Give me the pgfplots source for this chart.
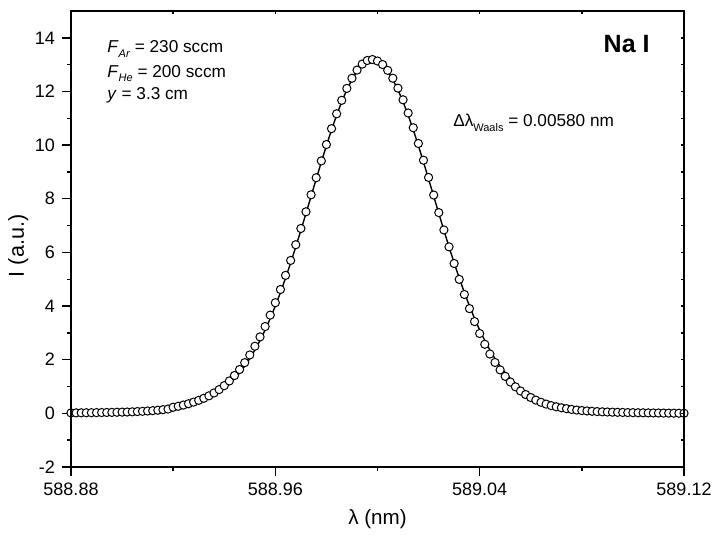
\documentclass[border=0pt]{standalone}
\usepackage{fontspec}
\setmainfont{Liberation Sans}
\usepackage{pgfplots}
\pgfplotsset{compat=1.18}
\usepackage{pgfplotstable}

\newcommand{\sub}[1]{\raisebox{-2.2pt}{\fontsize{5.5}{6}\selectfont #1}}

\pgfplotstableread{
x y
588.880 0.056
588.882 0.058
588.884 0.060
588.886 0.062
588.888 0.064
588.890 0.067
588.892 0.070
588.894 0.073
588.896 0.076
588.898 0.079
588.900 0.083
588.902 0.088
588.904 0.093
588.906 0.100
588.908 0.107
588.910 0.116
588.912 0.126
588.914 0.139
588.916 0.155
588.918 0.173
588.920 0.196
588.922 0.224
588.924 0.258
588.926 0.299
588.928 0.349
588.930 0.410
588.932 0.482
588.934 0.568
588.936 0.670
588.938 0.791
588.940 0.933
588.942 1.098
588.944 1.289
588.946 1.509
588.948 1.759
588.950 2.042
588.952 2.361
588.954 2.715
588.956 3.107
588.958 3.537
588.960 4.004
588.962 4.507
588.964 5.044
588.966 5.611
588.968 6.206
588.970 6.822
588.972 7.454
588.974 8.094
588.976 8.735
588.978 9.367
588.980 9.981
588.982 10.568
588.984 11.117
588.986 11.619
588.988 12.064
588.990 12.443
588.992 12.747
588.994 12.969
588.996 13.104
588.998 13.150
589.000 13.104
589.002 12.969
589.004 12.747
589.006 12.443
589.008 12.064
589.010 11.619
589.012 11.117
589.014 10.568
589.016 9.981
589.018 9.367
589.020 8.735
589.022 8.094
589.024 7.454
589.026 6.822
589.028 6.206
589.030 5.611
589.032 5.044
589.034 4.507
589.036 4.004
589.038 3.537
589.040 3.107
589.042 2.715
589.044 2.361
589.046 2.042
589.048 1.759
589.050 1.509
589.052 1.289
589.054 1.098
589.056 0.933
589.058 0.791
589.060 0.670
589.062 0.568
589.064 0.482
589.066 0.410
589.068 0.349
589.070 0.299
589.072 0.258
589.074 0.224
589.076 0.196
589.078 0.173
589.080 0.155
589.082 0.139
589.084 0.126
589.086 0.116
589.088 0.107
589.090 0.100
589.092 0.093
589.094 0.088
589.096 0.083
589.098 0.079
589.100 0.076
589.102 0.073
589.104 0.070
589.106 0.067
589.108 0.064
589.110 0.062
589.112 0.060
589.114 0.058
589.116 0.056
589.118 0.054
589.120 0.053
}\fitdata

\pgfplotstableread{
x y
588.880 0.016
588.882 0.018
588.884 0.020
588.886 0.022
588.888 0.024
588.890 0.027
588.892 0.030
588.894 0.033
588.896 0.036
588.898 0.040
588.900 0.045
588.902 0.050
588.904 0.057
588.906 0.067
588.908 0.076
588.910 0.088
588.912 0.100
588.914 0.117
588.916 0.137
588.918 0.160
588.920 0.226
588.922 0.264
588.924 0.308
588.926 0.359
588.928 0.419
588.930 0.485
588.932 0.562
588.934 0.653
588.936 0.760
588.938 0.886
588.940 1.033
588.942 1.208
588.944 1.409
588.946 1.634
588.948 1.889
588.950 2.177
588.952 2.501
588.954 2.850
588.956 3.237
588.958 3.662
588.960 4.124
588.962 4.617
588.964 5.144
588.966 5.701
588.968 6.286
588.970 6.892
588.972 7.514
588.974 8.149
588.976 8.785
588.978 9.412
588.980 10.021
588.982 10.613
588.984 11.167
588.986 11.669
588.988 12.114
588.990 12.493
588.992 12.797
588.994 13.019
588.996 13.154
588.998 13.190
589.000 13.134
589.002 13.004
589.004 12.787
589.006 12.493
589.008 12.124
589.010 11.689
589.012 11.197
589.014 10.648
589.016 10.061
589.018 9.437
589.020 8.795
589.022 8.139
589.024 7.484
589.026 6.837
589.028 6.206
589.030 5.586
589.032 4.994
589.034 4.432
589.036 3.904
589.038 3.422
589.040 2.977
589.042 2.575
589.044 2.211
589.046 1.897
589.048 1.619
589.050 1.379
589.052 1.169
589.054 0.988
589.056 0.833
589.058 0.701
589.060 0.590
589.062 0.493
589.064 0.412
589.066 0.345
589.068 0.289
589.070 0.244
589.072 0.208
589.074 0.174
589.076 0.146
589.078 0.123
589.080 0.105
589.082 0.089
589.084 0.076
589.086 0.066
589.088 0.057
589.090 0.050
589.092 0.043
589.094 0.038
589.096 0.033
589.098 0.029
589.100 0.026
589.102 0.023
589.104 0.020
589.106 0.017
589.108 0.015
589.110 0.012
589.112 0.010
589.114 0.008
589.116 0.006
589.118 0.004
589.120 0.003
}\measdata

\begin{document}
\begin{tikzpicture}
\begin{axis}[
  scale only axis, width=306.5pt, height=228pt,
  xmin=588.88, xmax=589.12, ymin=-2, ymax=15,
  xtick={588.88,588.96,589.04,589.12}, minor x tick num=1,
  ytick={-2,0,...,14}, minor y tick num=1,
  xtick pos=left, ytick pos=left, tick align=outside,
  major tick length=4.5pt, minor tick length=2pt,
  axis line style={line width=0.75pt},
  tick style={line width=0.7pt, black},
  scaled x ticks=false,
  xticklabel style={/pgf/number format/fixed, /pgf/number format/fixed zerofill, /pgf/number format/precision=2, /pgf/number format/1000 sep={}},
  /pgf/number format/assume math mode=true,
  tick label style={font=\fontsize{9}{10}\selectfont},
  xlabel={λ (nm)}, ylabel={I (a.u.)},
  xlabel style={font=\fontsize{10.3}{12}\selectfont, at={(axis description cs:0.5,-0.1272)}, anchor=base},
  ylabel style={font=\fontsize{10.8}{12}\selectfont, at={(axis description cs:-0.0767,0.485)}, anchor=base},
  clip=false,
]
\coordinate (sw) at (rel axis cs:0,0);
\coordinate (ne) at (rel axis cs:1,1);
\addplot[only marks, mark=*, mark size=2.05pt, mark options={fill=white, draw=black, line width=0.5pt}] table {\measdata};
\addplot[black, line width=0.7pt] table {\fitdata};
\node[anchor=base west, font=\fontsize{8.6}{10}\selectfont, inner sep=0pt] at (rel axis cs:0.0587,0.908) {\textit{F}\sub{\textit{Ar}} = 230 sccm};
\node[anchor=base west, font=\fontsize{8.6}{10}\selectfont, inner sep=0pt] at (rel axis cs:0.0587,0.855) {\textit{F}\sub{\textit{He}} = 200 sccm};
\node[anchor=base west, font=\fontsize{8.6}{10}\selectfont, inner sep=0pt] at (rel axis cs:0.0587,0.805) {\textit{y} = 3.3 cm};
\node[anchor=base east, font=\fontsize{12.5}{14}\selectfont\bfseries, inner sep=0pt] at (rel axis cs:0.9445,0.908) {Na I};
\node[anchor=base west, font=\fontsize{8.6}{10}\selectfont, inner sep=0pt] at (rel axis cs:0.623,0.7456) {Δλ\sub{Waals} = 0.00580 nm};
\end{axis}
\begin{axis}[
  scale only axis, width=306.5pt, height=228pt,
  xmin=588.88, xmax=589.12, ymin=-2, ymax=15,
  xtick={588.92,588.96,589.00,589.04,589.08},
  ytick={-1,0,...,14},
  xtick pos=right, ytick pos=right, tick align=inside,
  major tick length=1.5pt,
  axis line style={line width=0.75pt},
  tick style={line width=0.7pt, black},
  xticklabels={}, yticklabels={},
]
\end{axis}
\pgfresetboundingbox
\path ([shift={(-35.5pt,-38pt)}]sw) rectangle ([shift={(15.5pt,5.5pt)}]ne);
\end{tikzpicture}
\end{document}
